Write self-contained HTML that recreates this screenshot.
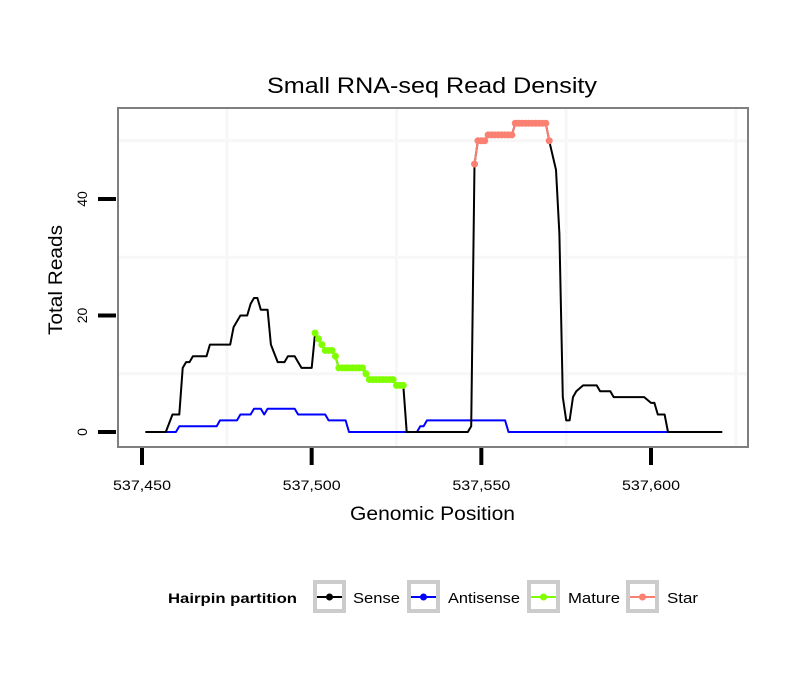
<!DOCTYPE html>
<html><head><meta charset="utf-8"><style>
body{margin:0;background:#fff;}
svg{display:block;font-family:"Liberation Sans",Arial,sans-serif;}
</style></head><body>
<svg width="810" height="690" viewBox="0 0 810 690" xmlns="http://www.w3.org/2000/svg">
<g id="grid"></g>
<g id="series"></g>
<rect x="118" y="108" width="630" height="339" fill="none" stroke="#7f7f7f" stroke-width="2"/>
<g id="axes"></g>
<text x="267" y="93" font-size="22" textLength="330" lengthAdjust="spacingAndGlyphs">Small RNA-seq Read Density</text>
<text x="350" y="520" font-size="19" textLength="165" lengthAdjust="spacingAndGlyphs">Genomic Position</text>
<text transform="translate(62,335) rotate(-90)" font-size="19" textLength="110" lengthAdjust="spacingAndGlyphs">Total Reads</text>
<g id="legend">
<text x="168" y="603" font-size="14" font-weight="bold" textLength="129" lengthAdjust="spacingAndGlyphs">Hairpin partition</text>
</g>
</svg>
<script>
const xTicks=[537450,537500,537550,537600];
const xTickLabels=["537,450","537,500","537,550","537,600"];
const yTicks=[0,20,40];
const senseX=[537451,537457,537459,537461,537462,537463,537464,537465,537469,537470,537476,537477,537479,537481,537482,537483,537484,537485,537487,537488,537490,537492,537493,537495,537496,537497,537500,537501,537502,537503,537504,537506,537507,537508,537515,537516,537517,537524,537525,537527,537528,537546,537547,537548,537549,537551,537552,537559,537560,537569,537570,537572,537573,537574,537575,537576,537577,537578,537580,537584,537585,537588,537589,537598,537600,537601,537602,537604,537605,537621];
const senseY=[0,0,3,3,11,12,12,13,13,15,15,18,20,20,22,23,23,21,21,15,12,12,13,13,12,11,11,17,16,15,14,14,13,11,11,10,9,9,8,8,0,0,1,46,50,50,51,51,53,53,50,45,34,6,2,2,6,7,8,8,7,7,6,6,5,5,3,3,0,0];
const antiX=[537451,537460,537461,537472,537473,537478,537479,537482,537483,537485,537486,537487,537495,537496,537504,537505,537510,537511,537531,537532,537533,537534,537557,537558,537605];
const antiY=[0,0,1,1,2,2,3,3,4,4,3,4,4,3,3,2,2,0,0,1,1,2,2,0,0];
const matureX=[537501,537502,537503,537504,537505,537506,537507,537508,537509,537510,537511,537512,537513,537514,537515,537516,537517,537518,537519,537520,537521,537522,537523,537524,537525,537526,537527];
const matureY=[17,16,15,14,14,14,13,11,11,11,11,11,11,11,11,10,9,9,9,9,9,9,9,9,8,8,8];
const starX=[537548,537549,537550,537551,537552,537553,537554,537555,537556,537557,537558,537559,537560,537561,537562,537563,537564,537565,537566,537567,537568,537569,537570];
const starY=[46,50,50,50,51,51,51,51,51,51,51,51,53,53,53,53,53,53,53,53,53,53,50];

const NS="http://www.w3.org/2000/svg";
const sx=v=>142+(v-537450)*(509/150);
const sy=v=>432-v*(233/40);
function mk(tag,attrs,parent){const e=document.createElementNS(NS,tag);for(const k in attrs)e.setAttribute(k,attrs[k]);parent.appendChild(e);return e;}
const grid=document.getElementById('grid'),series=document.getElementById('series'),axes=document.getElementById('axes'),legend=document.getElementById('legend');
[537425,537475,537525,537575,537625].forEach(v=>{const x=sx(v);if(x>118&&x<748){const l=mk('line',{x1:x,x2:x,y1:108,y2:447,stroke:'#f7f7f7','stroke-width':3},grid);

}});
[10,30,50].forEach(v=>{const l=mk('line',{x1:118,x2:748,y1:sy(v),y2:sy(v),stroke:'#f7f7f7','stroke-width':3},grid);

});
xTicks.forEach((v,i)=>{const x=sx(v);const t=mk('line',{x1:x,x2:x,y1:448,y2:465,stroke:'#000','stroke-width':4},axes);


const lb=mk('text',{x:x-29,y:490,'font-size':14,textLength:58,lengthAdjust:'spacingAndGlyphs'},axes);lb.textContent=xTickLabels[i];

});
yTicks.forEach(v=>{const y=sy(v);const t=mk('line',{x1:98,x2:116,y1:y,y2:y,stroke:'#000','stroke-width':4},axes);


const lb=mk('text',{transform:`translate(87,${y}) rotate(-90)`,'font-size':14,'text-anchor':'middle'},axes);lb.textContent=String(v);

});
function line(xs,ys,col,name){const d=xs.map((v,i)=>(i?'L':'M')+sx(v).toFixed(1)+','+sy(ys[i]).toFixed(1)).join('');
const p=mk('path',{d:d,fill:'none',stroke:col,'stroke-width':2,'stroke-linejoin':'round'},series);


return p;}
function pts(xs,ys,col,name){const g=mk('g',{},series);


xs.forEach((v,i)=>{const c=mk('circle',{cx:sx(v),cy:sy(ys[i]),r:3.5,fill:col},g);

});}
line(antiX,antiY,'#0000ff','antisense-line');
line(senseX,senseY,'#000000','sense-line');
pts(matureX,matureY,'#7fff00','mature');
line(matureX,matureY,'#7fff00','mature-line');
pts(starX,starY,'#fa8072','star');
line(starX,starY,'#fa8072','star-line');
const entries=[['Sense','#000',313,353,47],['Antisense','#0000ff',407,448,72],['Mature','#7fff00',527,568,52],['Star','#fa8072',626,667,31]];
entries.forEach(e=>{const g=mk('g',{},legend);


mk('rect',{x:e[2]+2,y:582,width:29,height:29,fill:'#fff',stroke:'#cccccc','stroke-width':4},g);
mk('line',{x1:e[2]+4,x2:e[2]+29,y1:597,y2:597,stroke:e[1],'stroke-width':2},g);
mk('circle',{cx:e[2]+16.5,cy:597,r:3.5,fill:e[1]},g);
const t=mk('text',{x:e[3],y:603,'font-size':15,textLength:e[4],lengthAdjust:'spacingAndGlyphs'},g);t.textContent=e[0];});
</script>
</body></html>
